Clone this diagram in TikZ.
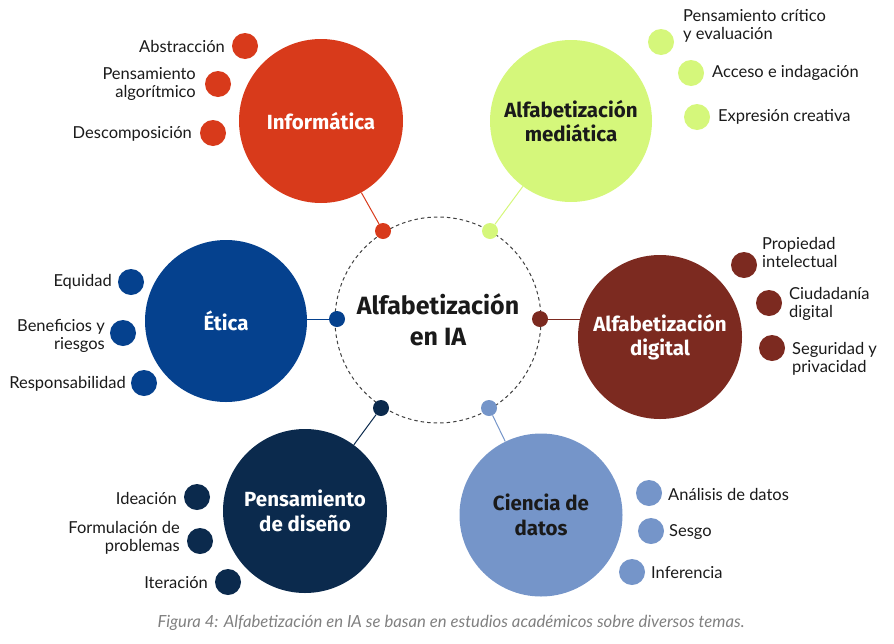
\documentclass[tikz,border=0pt]{standalone}
\usepackage{fontspec}
\setmainfont{Lato}
\newfontfamily\titlefont{Fira Sans}
\usetikzlibrary{backgrounds}
\definecolor{cRed}{HTML}{D83A1B}
\definecolor{cGreen}{HTML}{D5F77B}
\definecolor{cBrown}{HTML}{7C2A20}
\definecolor{cBlue}{HTML}{05418E}
\definecolor{cNavy}{HTML}{0B2A4D}
\definecolor{cLBlue}{HTML}{7595C9}
\definecolor{cText}{HTML}{1A1A1A}
\tikzset{
  big/.style={circle, fill=#1, minimum size=164pt, inner sep=0pt, align=center,
    font=\titlefont\bfseries\fontsize{20.5}{24.5}\selectfont},
  hub/.style={circle, fill=#1, minimum size=16pt, inner sep=0pt},
  sat/.style={circle, fill=#1, minimum size=26pt, inner sep=0pt},
  lblR/.style={anchor=east, align=right, inner sep=0pt, text=cText, font=\fontsize{16.5}{18}\selectfont},
  lblL/.style={anchor=west, align=left, inner sep=0pt, text=cText, font=\fontsize{16.5}{18}\selectfont},
  link/.style={draw=#1, line width=1pt},
}
\begin{document}
\begin{tikzpicture}[x=1pt,y=-1pt]
\useasboundingbox (0,0) rectangle (894,643);
% central dashed circle
\node (center) [circle, minimum size=206pt, inner sep=0pt, draw=black!75, dashed, line width=1pt,
  dash pattern=on 3.5pt off 3pt, align=center, text=cText,
  font=\titlefont\bfseries\fontsize{25}{31}\selectfont] at (438,320) {Alfabetización\\en IA};
% hub dots
\node (hR) [hub=cRed] at (383,231) {};
\node (hG) [hub=cGreen] at (490,231) {};
\node (hB) [hub=cBlue] at (337,319) {};
\node (hBr) [hub=cBrown] at (540,319) {};
\node (hN) [hub=cNavy] at (381,408) {};
\node (hL) [hub=cLBlue] at (489,408) {};
% big circles
\node (inf) [big=cRed, text=white] at (321,121) {Informática};
\node (med) [big=cGreen, text=cText, minimum size=162pt] at (571,121) {Alfabetización\\mediática};
\node (eti) [big=cBlue, text=white, minimum size=162pt] at (226,321) {Ética};
\node (dig) [big=cBrown, text=white] at (660,337) {Alfabetización\\digital};
\node (dis) [big=cNavy, text=white] at (305,511) {Pensamiento\\de diseño};
\node (cie) [big=cLBlue, text=cText, minimum size=163pt] at (541,515) {Ciencia de\\datos};
% connectors
\begin{scope}[on background layer]
\draw[link=cRed] (hR) -- (inf);
\draw[link=cGreen] (hG) -- (med);
\draw[link=cBlue] (hB) -- (hB -| eti);
\draw[link=cBrown] (hBr) -- (hBr -| dig);
\draw[link=cNavy] (hN) -- (dis);
\draw[link=cLBlue] (hL) -- (cie);
\end{scope}
% Informática satellites
\node (s1) [sat=cRed] at (245,46) {};
\node (s2) [sat=cRed] at (218,84) {};
\node (s3) [sat=cRed] at (213,133) {};
\node (t1) [lblR] at (225,46) {Abstracción};
\node (t2) [lblR] at (196,84) {Pensamiento\\algorítmico};
\node (t3) [lblR] at (192,134) {Descomposición};
% mediática satellites
\node (s4) [sat=cGreen] at (661,42) {};
\node (s5) [sat=cGreen] at (691,73) {};
\node (s6) [sat=cGreen] at (697,117) {};
\node (t4) [lblL] at (683,26) {Pensamiento crítico\\y evaluación};
\node (t5) [lblL] at (712,73) {Acceso e indagación};
\node (t6) [lblL] at (718,117) {Expresión creativa};
% digital satellites
\node (s7) [sat=cBrown] at (744,265) {};
\node (s8) [sat=cBrown] at (769,303) {};
\node (s9) [sat=cBrown] at (772,348) {};
\node (t7) [lblL] at (762,252) {Propiedad\\intelectual};
\node (t8) [lblL] at (789,304) {Ciudadanía\\digital};
\node (t9) [lblL] at (792,359) {Seguridad y\\privacidad};
% Ética satellites
\node (s10) [sat=cBlue] at (131,282) {};
\node (s11) [sat=cBlue] at (123,333) {};
\node (s12) [sat=cBlue] at (144,383) {};
\node (t10) [lblR] at (112,282) {Equidad};
\node (t11) [lblR] at (105,336) {Beneficios y\\riesgos};
\node (t12) [lblR] at (126,384) {Responsabilidad};
% diseño satellites
\node (s13) [sat=cNavy] at (197,497) {};
\node (s14) [sat=cNavy] at (200,541) {};
\node (s15) [sat=cNavy] at (228,582) {};
\node (t13) [lblR] at (177,498) {Ideación};
\node (t14) [lblR] at (180,538) {Formulación de\\problemas};
\node (t15) [lblR] at (208,583) {Iteración};
% ciencia satellites
\node (s16) [sat=cLBlue] at (649,493) {};
\node (s17) [sat=cLBlue] at (651,531) {};
\node (s18) [sat=cLBlue] at (632,572) {};
\node (t16) [lblL] at (668,494) {Análisis de datos};
\node (t17) [lblL] at (669,532) {Sesgo};
\node (t18) [lblL] at (651,573) {Inferencia};
% caption
\node (cap) [text=black!50, font=\itshape\fontsize{16.7}{18}\selectfont] at (451,623)
  {Figura 4: Alfabetización en IA se basan en estudios académicos sobre diversos temas.};
\end{tikzpicture}
\end{document}
